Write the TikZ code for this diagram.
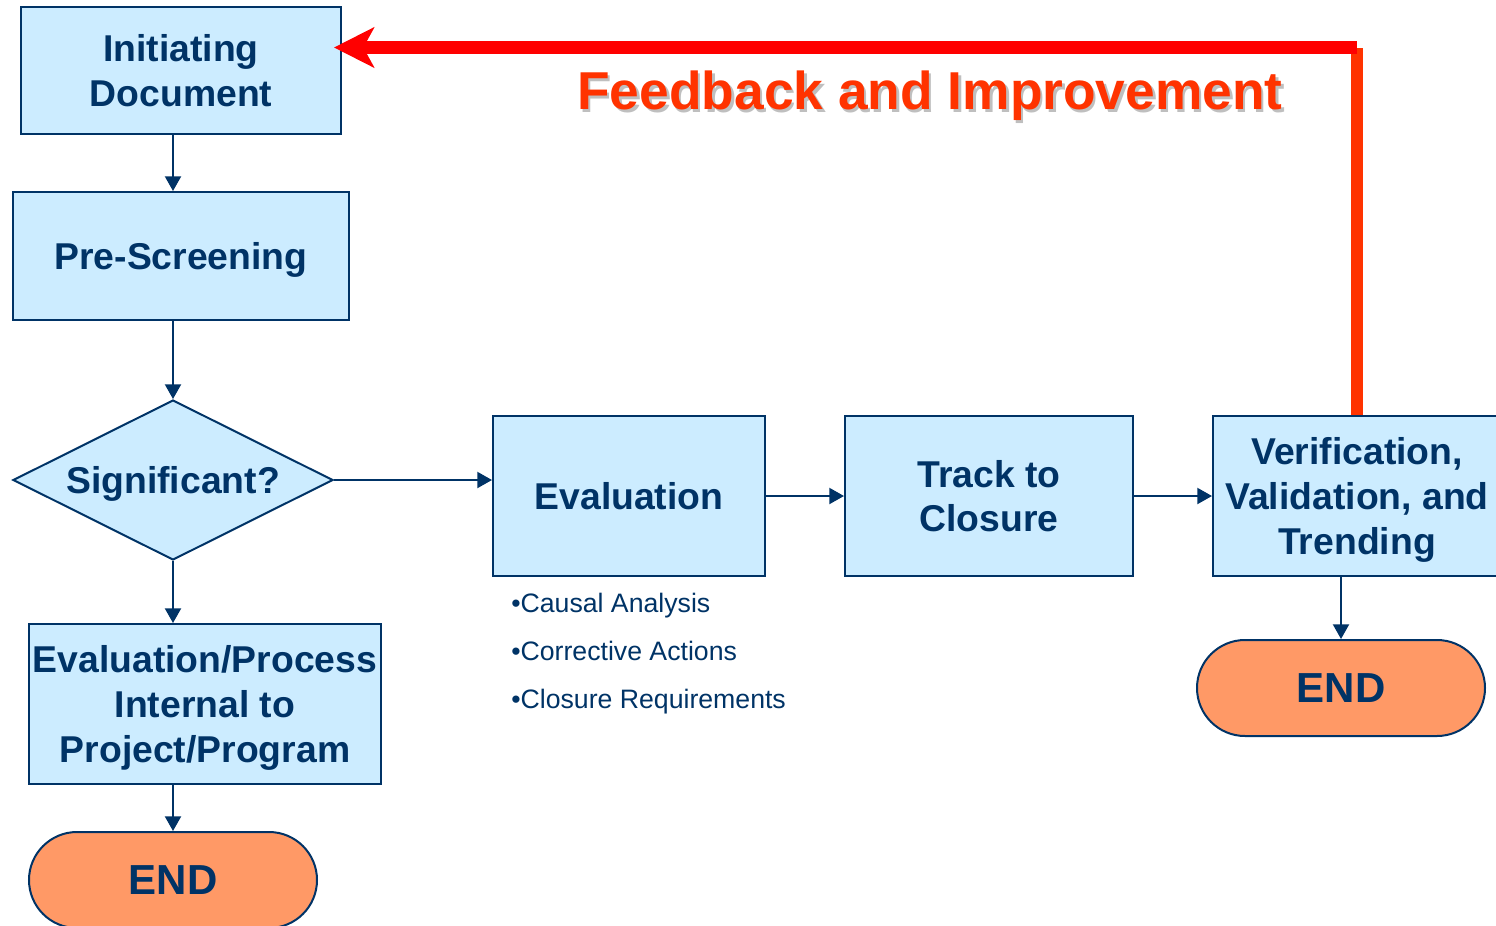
\documentclass[tikz,border=0pt]{standalone}
\usepackage{fontspec}
\setmainfont{Liberation Sans}
\usetikzlibrary{shapes.geometric,arrows.meta}
\definecolor{navy}{HTML}{003366}
\definecolor{boxblue}{HTML}{CCECFF}
\definecolor{endorange}{HTML}{FF9966}
\definecolor{fbred}{HTML}{FF3300}

\begin{document}
\begin{tikzpicture}[x=0.75pt,y=-0.75pt,
  box/.style={draw=navy,line width=1.5pt,fill=boxblue,text=navy,align=center,inner sep=1pt,
    text depth=0pt,font=\fontsize{28}{33.5}\selectfont\bfseries},
  endbox/.style={draw=navy,line width=1.5pt,fill=endorange,text=navy,minimum width=216pt,
    minimum height=72pt,rounded corners=36pt,font=\fontsize{31.5}{36}\selectfont\bfseries},
  conn/.style={draw=navy,line width=1.5pt,-{Triangle[length=11pt,width=12pt]}},
  fbline/.style={line width=9.5pt}]
  \useasboundingbox (0,0) rectangle (1496,925);

  % left column
  \node[box,minimum width=240pt,minimum height=95pt] (init) at (181,70.5) {Initiating\\Document};
  \node[box,minimum width=252pt,minimum height=96pt] (pre) at (181,256) {Pre-Screening};
  \node[box,diamond,aspect=2,minimum width=240pt,minimum height=120pt,inner sep=0pt] (sig) at (173,480) {Significant?};
  \node[box,minimum width=264pt,minimum height=120pt] (evp) at (205,704) {Evaluation/Process\\Internal to\\Project/Program};
  \node[endbox] (endl) at (173,880) {END};

  % main row
  \node[box,minimum width=204pt,minimum height=120pt] (eval) at (629,496) {Evaluation};
  \node[box,minimum width=216pt,minimum height=120pt] (track) at (989,496) {Track to\\Closure};
  \node[box,minimum width=216pt,minimum height=120pt] (ver) at (1357,496) {Verification,\\Validation, and\\Trending};
  \node[endbox] (endr) at (1341,688) {END};
  \node[text=navy,align=left,anchor=west,inner sep=0pt,font=\fontsize{20}{36}\selectfont] (notes) at (511,654)
    {\textbullet Causal Analysis\\\textbullet Corrective Actions\\\textbullet Closure Requirements};

  \draw[conn] (init.south -| sig.north) -- (pre.north -| sig.north);
  \draw[conn] (pre.south -| sig.north) -- (sig.north);
  \draw[conn] (sig.east) -- (eval.west |- sig.east);
  \draw[conn] (eval.east) -- (track.west);
  \draw[conn] (track.east) -- (ver.west);
  \draw[conn] (sig.south) -- (evp.north -| sig.south);
  \draw[conn] (evp.south -| endl.north) -- (endl.north);
  \draw[conn] (ver.south -| endr.north) -- (endr.north);

  % feedback loop
  \coordinate (corner) at (1357,47.5);
  \draw[fbline,fbred] (ver.north -| corner) -- (corner);
  \draw[fbline,red,shorten >=-6pt,-{Stealth[length=30pt,width=30pt,inset=8pt]}] (corner) -- (init.east |- corner);
  \node[text=black!25,font=\fontsize{40}{48}\selectfont\bfseries] (fbshadow) at (932.5,98.5) {Feedback and Improvement};
  \node[text=fbred,font=\fontsize{40}{48}\selectfont\bfseries] (fbtext) at (930,96) {Feedback and Improvement};
\end{tikzpicture}
\end{document}
